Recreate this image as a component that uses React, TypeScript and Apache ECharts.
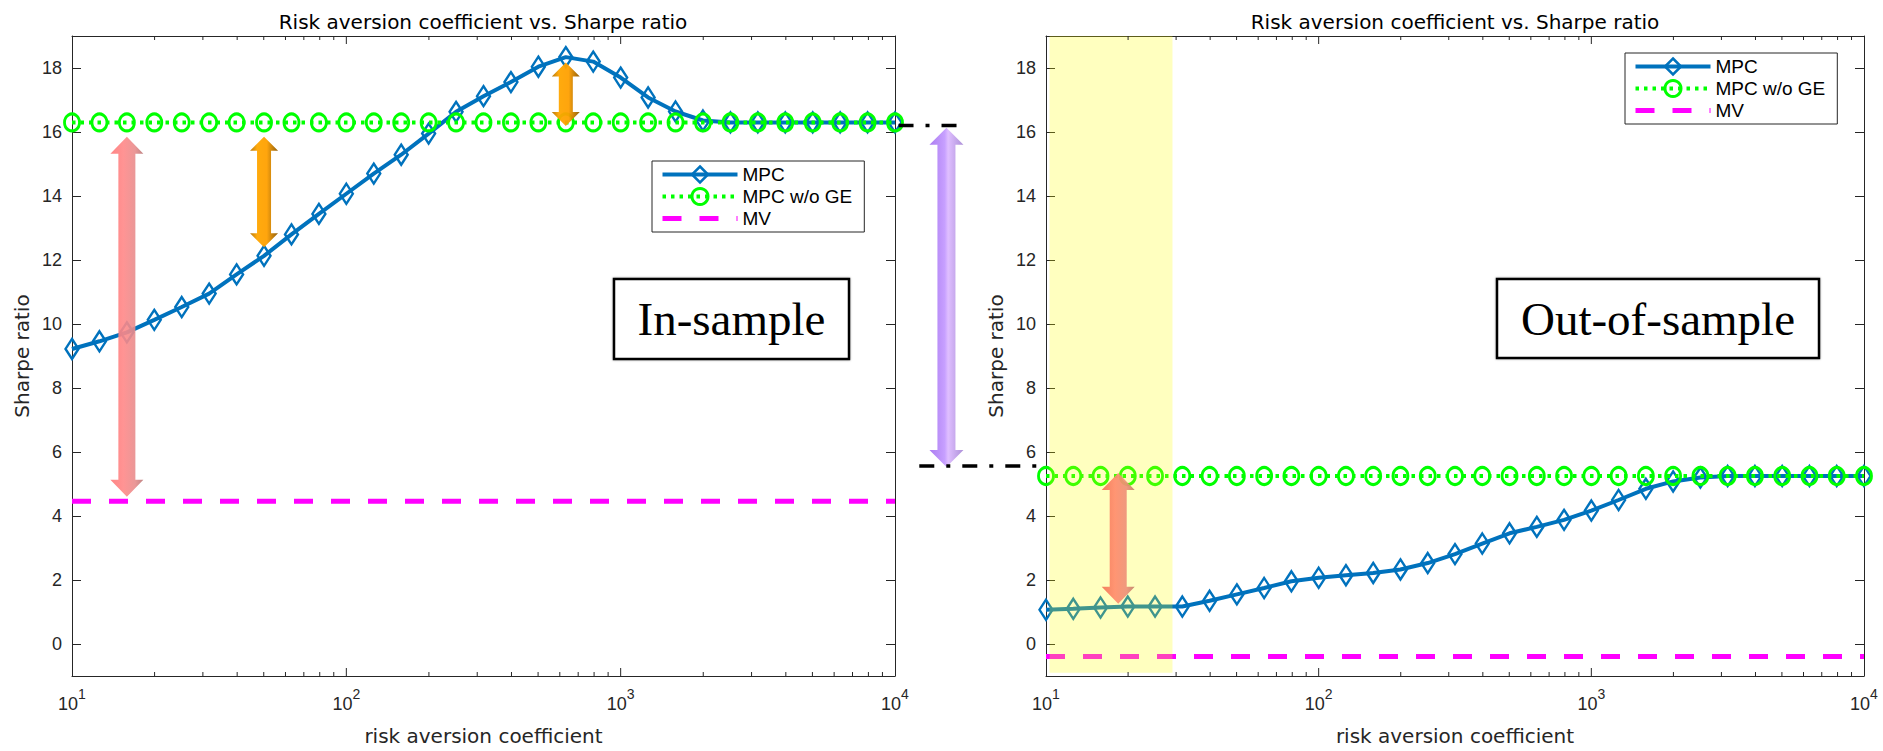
import React, { useEffect, useRef } from 'react';
import * as echarts from 'echarts';

// ---------------- data ----------------
const xValues = [10, 12.59, 15.85, 19.95, 25.12, 31.62, 39.81, 50.12, 63.1, 79.43, 100, 125.9, 158.5, 199.5, 251.2, 316.2, 398.1, 501.2, 631, 794.3, 1000, 1259, 1585, 1995, 2512, 3162, 3981, 5012, 6310, 7943, 10000];

const mpcIn = [9.22, 9.46, 9.74, 10.13, 10.53, 10.95, 11.55, 12.13, 12.8, 13.44, 14.07, 14.7, 15.29, 15.95, 16.63, 17.12, 17.56, 18.04, 18.34, 18.2, 17.7, 17.08, 16.64, 16.36, 16.3, 16.3, 16.3, 16.3, 16.3, 16.3, 16.3];
const mpcNoGeIn = [16.3, 16.3, 16.3, 16.3, 16.3, 16.3, 16.3, 16.3, 16.3, 16.3, 16.3, 16.3, 16.3, 16.3, 16.3, 16.3, 16.3, 16.3, 16.3, 16.3, 16.3, 16.3, 16.3, 16.3, 16.3, 16.3, 16.3, 16.3, 16.3, 16.3, 16.3];

const mpcOut = [1.07, 1.1, 1.14, 1.17, 1.17, 1.17, 1.35, 1.55, 1.75, 1.96, 2.07, 2.15, 2.22, 2.33, 2.53, 2.81, 3.14, 3.46, 3.66, 3.88, 4.17, 4.5, 4.85, 5.08, 5.2, 5.25, 5.25, 5.25, 5.25, 5.25, 5.25];
const mpcNoGeOut = [5.25, 5.25, 5.25, 5.25, 5.25, 5.25, 5.25, 5.25, 5.25, 5.25, 5.25, 5.25, 5.25, 5.25, 5.25, 5.25, 5.25, 5.25, 5.25, 5.25, 5.25, 5.25, 5.25, 5.25, 5.25, 5.25, 5.25, 5.25, 5.25, 5.25, 5.25];

const mvX = [10, 10000];
const mvIn = [4.46, 4.46];
const mvOut = [-0.39, -0.39];

const yTicks = [0, 2, 4, 6, 8, 10, 12, 14, 16, 18];
const xMajorInner = [100, 1000];
const xMinor = [20, 30, 40, 50, 60, 70, 80, 90, 200, 300, 400, 500, 600, 700, 800, 900, 2000, 3000, 4000, 5000, 6000, 7000, 8000, 9000];

const titleText = 'Risk aversion coefficient vs. Sharpe ratio';
const xName = 'risk aversion coefficient';
const yName = 'Sharpe ratio';
const names = ['MPC', 'MPC w/o GE', 'MV'];

// annotation arrows: [x, yTop, yBottom, style]
const arrowsIn = [
  [15.85, 15.85, 4.6, 0],
  [50.12, 15.85, 12.4, 1],
  [631, 18.17, 16.19, 1],
  [15400, 16.13, 5.53, 2],
];
const arrowsOut = [[18.4, 5.34, 1.26, 3]];

// dash-dot guides: [x1, x2, y]
const guideIn = [[10300, 17000, 16.2]];
const guideOut = [[3.43, 9.35, 5.56]];

// highlighted region (out-of-sample): [x1, x2, y1, y2]
const shadeOut = [[10.3, 29.1, -0.9, 19]];

// ---------------- styles ----------------
const BLUE = '#0072BD';
const GREEN = '#00FF00';
const MAGENTA = '#FF00FF';
const AXIS = '#262626';

const arrowStyles = [
  { sw: 17, hw: 33, hl: 17, opacity: 0.9, stops: [
    { offset: 0, color: '#FF7878' }, { offset: 0.4, color: '#FF8888' }, { offset: 0.75, color: '#E88C8C' }, { offset: 1, color: '#B87878' }] },
  { sw: 14, hw: 28, hl: 14, opacity: 0.95, stops: [
    { offset: 0, color: '#B37000' }, { offset: 0.25, color: '#FFA600' }, { offset: 0.6, color: '#FFA000' }, { offset: 1, color: '#8A5700' }] },
  { sw: 18, hw: 34, hl: 17, opacity: 0.95, stops: [
    { offset: 0, color: '#A775F0' }, { offset: 0.45, color: '#C49BFF' }, { offset: 0.55, color: '#DDBBFF' }, { offset: 1, color: '#A88AD6' }] },
  { sw: 17, hw: 33, hl: 17, opacity: 0.92, stops: [
    { offset: 0, color: '#F27455' }, { offset: 0.4, color: '#FF8C6C' }, { offset: 0.75, color: '#EE9078' }, { offset: 1, color: '#C08068' }] },
];

function arrowPoints(cx: number, yt: number, yb: number, sw: number, hw: number, hl: number) {
  return [
    [cx, yt], [cx + hw / 2, yt + hl], [cx + sw / 2, yt + hl], [cx + sw / 2, yb - hl], [cx + hw / 2, yb - hl],
    [cx, yb], [cx - hw / 2, yb - hl], [cx - sw / 2, yb - hl], [cx - sw / 2, yt + hl], [cx - hw / 2, yt + hl],
  ];
}

function arrowSeries(data: number[][], xi: number, yi: number, z: number) {
  return {
    type: 'custom', xAxisIndex: xi, yAxisIndex: yi, clip: false, silent: true, z,
    encode: { x: 0, y: [1, 2] },
    data,
    renderItem: (params: any, api: any) => {
      const st = arrowStyles[api.value(3)];
      const p1 = api.coord([api.value(0), api.value(1)]);
      const p2 = api.coord([api.value(0), api.value(2)]);
      return {
        type: 'polygon',
        shape: { points: arrowPoints(p1[0], p1[1], p2[1], st.sw, st.hw, st.hl) },
        style: { fill: new echarts.graphic.LinearGradient(0, 0, 1, 0, st.stops), opacity: st.opacity },
      };
    },
  };
}

function guideSeries(data: number[][], xi: number, yi: number) {
  return {
    type: 'custom', xAxisIndex: xi, yAxisIndex: yi, clip: false, silent: true, z: 7,
    encode: { x: [0, 1], y: 2 },
    data,
    renderItem: (params: any, api: any) => {
      const p1 = api.coord([api.value(0), api.value(2)]);
      const p2 = api.coord([api.value(1), api.value(2)]);
      return {
        type: 'line',
        shape: { x1: p1[0], y1: p1[1], x2: p2[0], y2: p2[1] },
        style: { stroke: '#000', lineWidth: 3.5, lineDash: [15, 12, 4, 12] },
      };
    },
  };
}

function shadeSeries(data: number[][], xi: number, yi: number) {
  return {
    type: 'custom', xAxisIndex: xi, yAxisIndex: yi, clip: false, silent: true, z: 5,
    encode: { x: [0, 1], y: [2, 3] },
    data,
    renderItem: (params: any, api: any) => {
      const p1 = api.coord([api.value(0), api.value(3)]);
      const p2 = api.coord([api.value(1), api.value(2)]);
      return {
        type: 'rect',
        shape: { x: p1[0], y: p1[1], width: p2[0] - p1[0], height: p2[1] - p1[1] },
        style: { fill: 'rgba(255,255,0,0.25)' },
      };
    },
  };
}

function tickSeries(xi: number, yi: number) {
  const data = [
    ...xMajorInner.map((v) => [v, 0, 1]),
    ...xMinor.map((v) => [v, 0, 0]),
  ];
  return {
    type: 'custom', xAxisIndex: xi, yAxisIndex: yi, clip: false, silent: true, z: 7,
    encode: { x: 0, y: 1 },
    data,
    renderItem: (params: any, api: any) => {
      const cs = params.coordSys;
      const px = api.coord([api.value(0), 0])[0];
      const L = api.value(2) === 1 ? 8 : 4;
      const b = cs.y + cs.height;
      return {
        type: 'group',
        children: [
          { type: 'line', shape: { x1: px, y1: b, x2: px, y2: b - L }, style: { stroke: AXIS, lineWidth: 1 } },
          { type: 'line', shape: { x1: px, y1: cs.y, x2: px, y2: cs.y + L }, style: { stroke: AXIS, lineWidth: 1 } },
        ],
      };
    },
  };
}

function lineSeries(xi: number, yi: number, mpc: number[], noGe: number[], mv: number[]) {
  return [
    {
      name: names[0], type: 'line', xAxisIndex: xi, yAxisIndex: yi, z: 2,
      data: xValues.map((x, i) => [x, mpc[i]]),
      symbol: 'diamond', symbolSize: [13, 20], showSymbol: true,
      itemStyle: { color: 'rgba(0,0,0,0)', borderColor: BLUE, borderWidth: 2.5 },
      lineStyle: { color: BLUE, width: 4 },
    },
    {
      name: names[1], type: 'line', xAxisIndex: xi, yAxisIndex: yi, z: 3,
      data: xValues.map((x, i) => [x, noGe[i]]),
      symbol: 'circle', symbolSize: [15, 17], showSymbol: true,
      itemStyle: { color: 'rgba(0,0,0,0)', borderColor: GREEN, borderWidth: 3 },
      lineStyle: { color: GREEN, width: 4, type: [3.5, 5] },
    },
    {
      name: names[2], type: 'line', xAxisIndex: xi, yAxisIndex: yi, z: 3,
      data: mvX.map((x, i) => [x, mv[i]]),
      symbol: 'none', showSymbol: false,
      itemStyle: { color: 'rgba(0,0,0,0)', opacity: 0 },
      lineStyle: { color: MAGENTA, width: 5, type: [19, 18] },
    },
  ];
}

const tickFont = { fontFamily: 'Liberation Sans', color: AXIS };
const nameFont = { fontFamily: 'DejaVu Sans', fontSize: 20, color: AXIS };

function xAxes(grid: number) {
  return [
    {
      type: 'log', logBase: 10, min: 10, max: 10000, gridIndex: grid, position: 'bottom',
      axisLine: { show: true, onZero: false, lineStyle: { color: AXIS, width: 1 } },
      axisTick: { show: false }, splitLine: { show: false }, minorTick: { show: false },
      axisLabel: {
        margin: 11,
        formatter: (v: number) => '{b|10}{s|' + Math.round(Math.log10(v)) + '}',
        rich: {
          b: { ...tickFont, fontSize: 18, padding: [8, 0, 0, 0] },
          s: { ...tickFont, fontSize: 14, verticalAlign: 'top' },
        },
      },
      name: xName, nameLocation: 'middle', nameGap: 50, nameTextStyle: nameFont,
    },
    {
      type: 'log', logBase: 10, min: 10, max: 10000, gridIndex: grid, position: 'top',
      axisLine: { show: true, onZero: false, lineStyle: { color: AXIS, width: 1 } },
      axisTick: { show: false }, axisLabel: { show: false }, splitLine: { show: false },
    },
  ];
}

function yAxes(grid: number) {
  return [
    {
      type: 'value', min: -1, max: 19, gridIndex: grid, position: 'left',
      axisLine: { show: true, onZero: false, lineStyle: { color: AXIS, width: 1 } },
      axisTick: { show: true, inside: true, length: 9, customValues: yTicks, lineStyle: { color: AXIS } },
      axisLabel: { customValues: yTicks, margin: 10, ...tickFont, fontSize: 18 },
      splitLine: { show: false },
      name: yName, nameLocation: 'middle', nameGap: 40, nameTextStyle: nameFont,
    },
    {
      type: 'value', min: -1, max: 19, gridIndex: grid, position: 'right',
      axisLine: { show: true, onZero: false, lineStyle: { color: AXIS, width: 1 } },
      axisTick: { show: true, inside: true, length: 9, customValues: yTicks, lineStyle: { color: AXIS } },
      axisLabel: { show: false }, splitLine: { show: false },
    },
  ];
}

function legend(left: number, top: number) {
  return {
    orient: 'vertical', left, top, z: 10,
    itemWidth: 75, itemHeight: 20, itemGap: 3, padding: [4, 12, 4, 8],
    borderColor: AXIS, borderWidth: 1, backgroundColor: '#fff', selectedMode: false,
    textStyle: { fontFamily: 'Liberation Sans', fontSize: 19, color: '#000' },
    data: [
      { name: names[0], itemStyle: { color: 'rgba(0,0,0,0)', borderColor: BLUE, borderWidth: 2.5 }, lineStyle: { color: BLUE, width: 4, type: 'solid' } },
      { name: names[1], itemStyle: { color: 'rgba(0,0,0,0)', borderColor: GREEN, borderWidth: 3 }, lineStyle: { color: GREEN, width: 4, type: [3.5, 5] } },
      { name: names[2], itemStyle: { color: 'rgba(0,0,0,0)', borderColor: 'rgba(0,0,0,0)', opacity: 0 }, lineStyle: { color: MAGENTA, width: 5, type: [19, 18] } },
    ],
  };
}

function labelBox(x: number, y: number, w: number, h: number, text: string) {
  return {
    type: 'group', z: 10,
    children: [
      { type: 'rect', shape: { x, y, width: w, height: h }, style: { fill: '#fff', stroke: '#000', lineWidth: 2.5, shadowBlur: 2, shadowColor: 'rgba(0,0,0,0.35)' } },
      { type: 'text', style: { text, x: x + w / 2, y: y + h / 2, align: 'center', verticalAlign: 'middle', font: '47px "Liberation Serif"', fill: '#000' } },
    ],
  };
}

export default function App() {
  const ref = useRef<HTMLDivElement>(null);
  useEffect(() => {
    const chart = echarts.init(ref.current as HTMLDivElement, null, { renderer: 'svg' });
    const option: any = {
      animation: false,
      backgroundColor: '#fff',
      title: [
        { text: titleText, left: 483, top: 12, padding: 0, textAlign: 'center', textStyle: { fontFamily: 'DejaVu Sans', fontSize: 20, fontWeight: 'normal', color: '#000' } },
        { text: titleText, left: 1455, top: 12, padding: 0, textAlign: 'center', textStyle: { fontFamily: 'DejaVu Sans', fontSize: 20, fontWeight: 'normal', color: '#000' } },
      ],
      grid: [
        { left: 72, top: 36, width: 823, height: 647 },
        { left: 1046, top: 36, width: 818, height: 647 },
      ],
      xAxis: [...xAxes(0), ...xAxes(1)],
      yAxis: [...yAxes(0), ...yAxes(1)],
      legend: [legend(652, 161), legend(1625, 53)],
      series: [
        ...lineSeries(0, 0, mpcIn, mpcNoGeIn, mvIn),
        ...lineSeries(2, 2, mpcOut, mpcNoGeOut, mvOut),
        arrowSeries(arrowsIn, 0, 0, 4),
        shadeSeries(shadeOut, 2, 2),
        arrowSeries(arrowsOut, 2, 2, 6),
        guideSeries(guideIn, 0, 0),
        guideSeries(guideOut, 2, 2),
        tickSeries(0, 0),
        tickSeries(2, 2),
      ],
      graphic: [
        labelBox(614, 279, 235, 80, 'In-sample'),
        labelBox(1497, 279, 322, 79, 'Out-of-sample'),
      ],
    };
    chart.setOption(option);
    return () => chart.dispose();
  }, []);
  return (
    <div
      ref={ref}
      style={{ position: 'fixed', left: 0, top: 0, width: 1883, height: 751, background: '#fff' }}
    />
  );
}
